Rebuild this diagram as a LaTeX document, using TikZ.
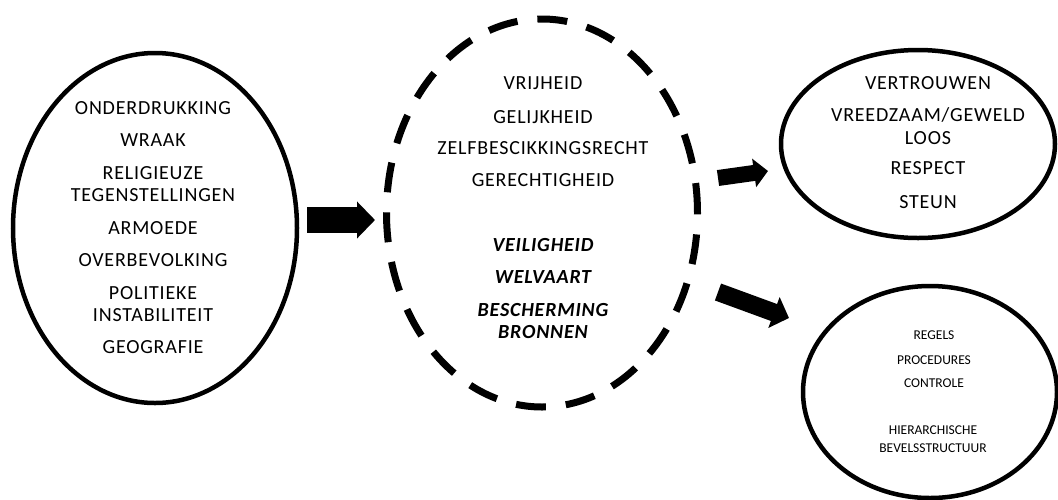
\documentclass[tikz,border=0pt]{standalone}
\usepackage{fontspec}
\setmainfont{Carlito}
\usetikzlibrary{shapes.geometric,arrows.meta}
\begin{document}
\begin{tikzpicture}[x=1pt,y=-1pt,
  bubble/.style={draw=black, ellipse, line width=4.5pt, inner sep=0pt},
  dashbubble/.style={draw=black, ellipse, line width=7pt, inner sep=0pt, dash pattern=on 30pt off 20pt},
  big/.style={font=\fontsize{20}{21}\selectfont\addfontfeatures{LetterSpace=4}, inner sep=0pt, text height=13pt, text depth=0pt, anchor=center},
  bigit/.style={big, font=\fontsize{20}{21}\selectfont\bfseries\itshape\addfontfeatures{LetterSpace=4}},
  small/.style={font=\fontsize{13.5}{14}\selectfont, inner sep=0pt, text height=8.7pt, text depth=0pt, anchor=center},
  blockarrow/.style={line width=#1, draw=black}
]
\useasboundingbox (0,0) rectangle (1058,499);

% ellipses
\node[bubble, minimum width=284pt, minimum height=350pt] (left) at (155,228) {};
\node[dashbubble, minimum width=311pt, minimum height=388pt] (mid) at (542,213) {};
\node[bubble, minimum width=274pt, minimum height=188pt] (rtop) at (918,144) {};
\node[bubble, minimum width=254pt, minimum height=212pt] (rbot) at (930,392) {};

% left texts
\node[big] (l1) at (153,108) {ONDERDRUKKING};
\node[big] (l2) at (153,140) {WRAAK};
\node[big] (l3) at (153,173) {RELIGIEUZE};
\node[big] (l4) at (153,195) {TEGENSTELLINGEN};
\node[big] (l5) at (153,228) {ARMOEDE};
\node[big] (l6) at (153,260) {OVERBEVOLKING};
\node[big] (l7) at (153,293) {POLITIEKE};
\node[big] (l8) at (153,315) {INSTABILITEIT};
\node[big] (l9) at (153,347) {GEOGRAFIE};

% middle texts
\node[big] (m1) at (543,83) {VRIJHEID};
\node[big] (m2) at (543,117) {GELIJKHEID};
\node[big] (m3) at (543,148) {ZELFBESCIKKINGSRECHT};
\node[big] (m4) at (543,180) {GERECHTIGHEID};
\node[bigit] (m5) at (543,245) {VEILIGHEID};
\node[bigit] (m6) at (543,277) {WELVAART};
\node[bigit] (m7) at (543,310) {BESCHERMING};
\node[bigit] (m8) at (543,332) {BRONNEN};

% right top texts
\node[big] (t1) at (928,83) {VERTROUWEN};
\node[big] (t2) at (928,115) {VREEDZAAM/GEWELD};
\node[big] (t3) at (928,138) {LOOS};
\node[big] (t4) at (928,168) {RESPECT};
\node[big] (t5) at (928,202) {STEUN};

% right bottom texts
\node[small] (b1) at (934,335) {REGELS};
\node[small] (b2) at (934,360) {PROCEDURES};
\node[small] (b3) at (934,383) {CONTROLE};
\node[small] (b4) at (933,430) {HIERARCHISCHE};
\node[small] (b5) at (933,448) {BEVELSSTRUCTUUR};

% arrows
\coordinate (a1s) at (307,220);
\coordinate (a1e) at (375,220);
\coordinate (a2s) at (718,178);
\coordinate (a2e) at (768,171);
\coordinate (a3s) at (718,292);
\coordinate (a3e) at (789,318);
\draw[blockarrow=26pt, -{Triangle[length=18pt,width=36pt]}] (a1s) -- (a1e);
\draw[blockarrow=16pt, -{Triangle[length=14pt,width=28pt]}] (a2s) -- (a2e);
\draw[blockarrow=18pt, -{Triangle[length=16pt,width=32pt]}] (a3s) -- (a3e);
\end{tikzpicture}
\end{document}
